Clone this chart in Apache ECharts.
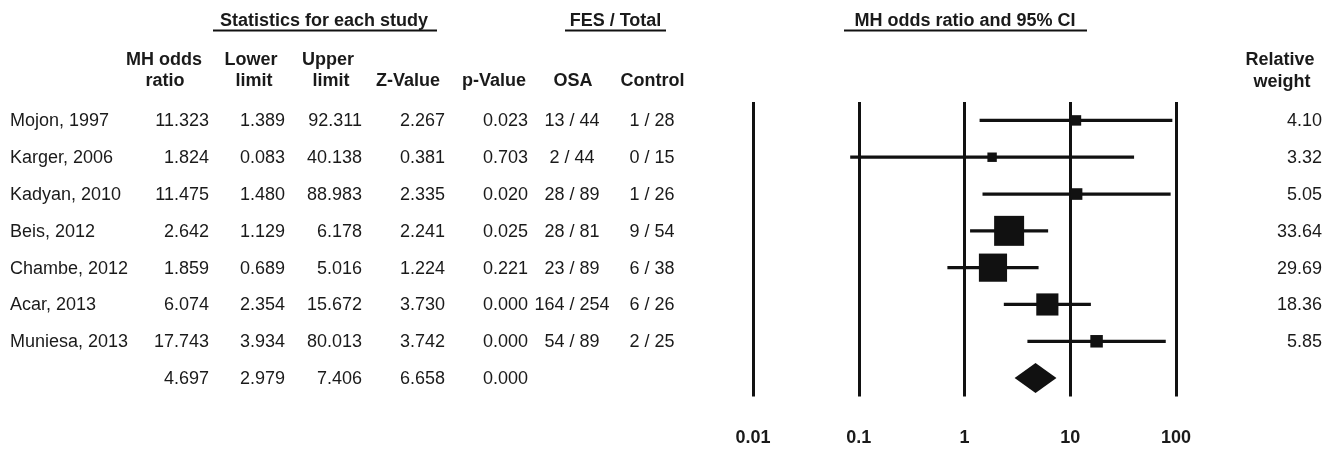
<!DOCTYPE html>
<html>
<head>
<meta charset="utf-8">
<script src="https://cdn.jsdelivr.net/npm/echarts@6/dist/echarts.min.js"></script>
<style>
html,body{margin:0;padding:0;background:#fff;}
#chart{width:1338px;height:450px;}
</style>
</head>
<body>
<div id="chart"></div>
<script>
// ---------- DATA ----------
const studies = ['Mojon, 1997','Karger, 2006','Kadyan, 2010','Beis, 2012','Chambe, 2012','Acar, 2013','Muniesa, 2013'];
const oddsRatio = [11.323, 1.824, 11.475, 2.642, 1.859, 6.074, 17.743];
const lowerLimit = [1.389, 0.083, 1.480, 1.129, 0.689, 2.354, 3.934];
const upperLimit = [92.311, 40.138, 88.983, 6.178, 5.016, 15.672, 80.013];
const zValue = [2.267, 0.381, 2.335, 2.241, 1.224, 3.730, 3.742];
const pValue = [0.023, 0.703, 0.020, 0.025, 0.221, 0.000, 0.000];
const osaFes = ['13 / 44','2 / 44','28 / 89','28 / 81','23 / 89','164 / 254','54 / 89'];
const controlFes = ['1 / 28','0 / 15','1 / 26','9 / 54','6 / 38','6 / 26','2 / 25'];
const relWeight = [4.10, 3.32, 5.05, 33.64, 29.69, 18.36, 5.85];
const summaryOR = 4.697, summaryLower = 2.979, summaryUpper = 7.406, summaryZ = 6.658, summaryP = 0.000;
const xTickLabels = ['0.01','0.1','1','10','100'];

// ---------- STYLE / LAYOUT ----------
const FONT = '"Liberation Sans", Arial, sans-serif';
const TXT = '#1a1a1a';
const INK = '#111';
const cols = {
  name:{x:10, align:'left'}, or:{x:209, align:'right'}, lo:{x:285, align:'right'},
  up:{x:362, align:'right'}, z:{x:445, align:'right'}, p:{x:528, align:'right'},
  osa:{x:572, align:'center'}, ctl:{x:652, align:'center'}, w:{x:1322, align:'right'}
};

const nRows = studies.length + 1;
const rowCats = studies.concat(['Summary']);

function rowTexts(i){
  if (i < studies.length) {
    return {name:studies[i], or:oddsRatio[i].toFixed(3), lo:lowerLimit[i].toFixed(3), up:upperLimit[i].toFixed(3),
      z:zValue[i].toFixed(3), p:pValue[i].toFixed(3), osa:osaFes[i], ctl:controlFes[i], w:relWeight[i].toFixed(2)};
  }
  return {or:summaryOR.toFixed(3), lo:summaryLower.toFixed(3), up:summaryUpper.toFixed(3),
    z:summaryZ.toFixed(3), p:summaryP.toFixed(3)};
}

const tableData = rowCats.map((c, i) => [1, i]);
const studyData = studies.map((s, i) => [oddsRatio[i], i, lowerLimit[i], upperLimit[i], relWeight[i]]);
const summaryData = [[summaryOR, studies.length, summaryLower, summaryUpper]];

function txt(x, y, text, align, bold){
  return {type:'text', x:x, y:y, style:{text:text, textAlign:align, textVerticalAlign:'middle',
    font:(bold?'bold ':'') + '18px ' + FONT, fill:TXT}};
}

const chart = echarts.init(document.getElementById('chart'), null, {renderer:'canvas'});

const headerGraphics = [
  txt(324, 21, 'Statistics for each study', 'center', true),
  txt(615.5, 21, 'FES / Total', 'center', true),
  txt(965, 21, 'MH odds ratio and 95% CI', 'center', true),
  {type:'line', shape:{x1:213, y1:30.5, x2:437, y2:30.5}, style:{stroke:INK, lineWidth:2}},
  {type:'line', shape:{x1:565, y1:30.5, x2:666, y2:30.5}, style:{stroke:INK, lineWidth:2}},
  {type:'line', shape:{x1:844, y1:30.5, x2:1087, y2:30.5}, style:{stroke:INK, lineWidth:2}},
  txt(164, 60, 'MH odds', 'center', true), txt(165, 81.5, 'ratio', 'center', true),
  txt(251, 60, 'Lower', 'center', true), txt(254, 81.5, 'limit', 'center', true),
  txt(328, 60, 'Upper', 'center', true), txt(331, 81.5, 'limit', 'center', true),
  txt(408, 81.5, 'Z-Value', 'center', true),
  txt(494, 81.5, 'p-Value', 'center', true),
  txt(573, 81.5, 'OSA', 'center', true),
  txt(652.5, 81.5, 'Control', 'center', true),
  txt(1280, 60, 'Relative', 'center', true), txt(1282, 82, 'weight', 'center', true)
];

chart.setOption({
  animation:false,
  backgroundColor:'#fff',
  grid:{left:753, right:162, top:102, bottom:53.5, containLabel:false},
  xAxis:{
    type:'log', logBase:10, min:0.01, max:100,
    axisLine:{show:false}, axisTick:{show:false},
    splitLine:{show:true, showMinLine:true, showMaxLine:true, lineStyle:{color:INK, width:3}},
    axisLabel:{show:true, margin:33, fontSize:18, fontWeight:'bold', fontFamily:FONT, color:TXT,
      formatter:function(v){ const e = Math.round(Math.log10(v)); return xTickLabels[e + 2] !== undefined ? xTickLabels[e + 2] : String(v); }}
  },
  yAxis:{type:'category', data:rowCats, inverse:true, show:false, boundaryGap:true},
  graphic:headerGraphics,
  series:[
    {
      type:'custom', name:'table', clip:false, silent:true, data:tableData,
      renderItem:function(params, api){
        const i = api.value(1);
        const y = api.coord([1, i])[1] + 1;
        const r = rowTexts(i);
        const children = [];
        Object.keys(r).forEach(k => { children.push(txt(cols[k].x, y, r[k], cols[k].align, false)); });
        return {type:'group', children:children};
      }
    },
    {
      type:'custom', name:'studies', clip:false, silent:true, data:studyData,
      renderItem:function(params, api){
        const c = api.coord([api.value(0), api.value(1)]);
        const lo = api.coord([api.value(2), api.value(1)]);
        const hi = api.coord([api.value(3), api.value(1)]);
        const s = 5.17 * Math.sqrt(api.value(4));
        return {type:'group', children:[
          {type:'line', shape:{x1:lo[0], y1:c[1], x2:hi[0], y2:c[1]}, style:{stroke:INK, lineWidth:3.2}},
          {type:'rect', shape:{x:c[0]-s/2, y:c[1]-s/2, width:s, height:s}, style:{fill:INK}}
        ]};
      }
    },
    {
      type:'custom', name:'summary', clip:false, silent:true, data:summaryData,
      renderItem:function(params, api){
        const c = api.coord([api.value(0), api.value(1)]);
        const lo = api.coord([api.value(2), api.value(1)]);
        const hi = api.coord([api.value(3), api.value(1)]);
        const h = 15;
        return {type:'polygon', shape:{points:[[lo[0], c[1]], [c[0], c[1]-h], [hi[0], c[1]], [c[0], c[1]+h]]}, style:{fill:INK}};
      }
    }
  ]
});
</script>
</body>
</html>
